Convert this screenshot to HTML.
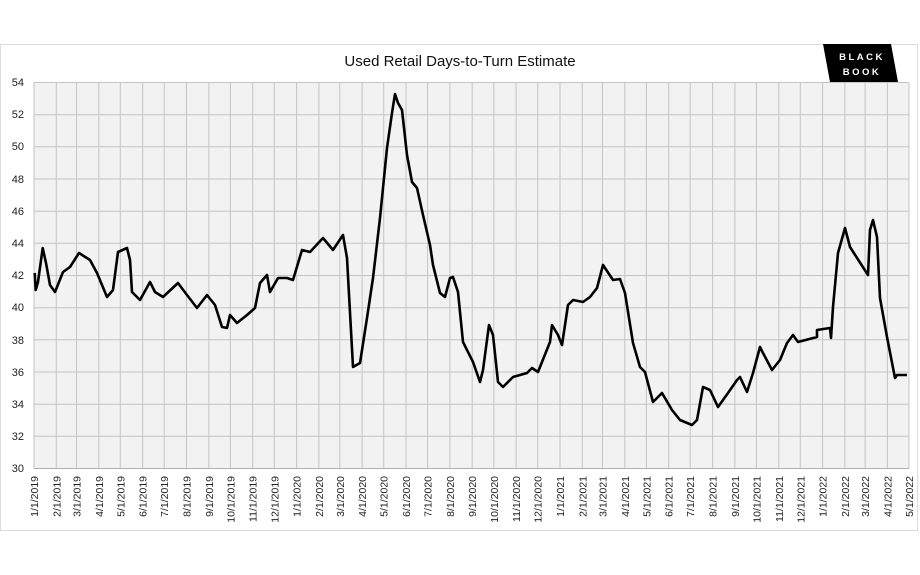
<!DOCTYPE html>
<html><head><meta charset="utf-8"><style>
html,body{margin:0;padding:0;background:#fff;width:920px;height:575px;overflow:hidden}
svg{display:block;font-family:"Liberation Sans",Arial,sans-serif}
</style></head><body>
<svg width="920" height="575" viewBox="0 0 920 575" xmlns="http://www.w3.org/2000/svg">
<rect x="0.5" y="44.5" width="917" height="486" fill="#fff" stroke="#dcdcdc" stroke-width="1"/>
<text x="460" y="66" text-anchor="middle" font-size="15" fill="#111">Used Retail Days-to-Turn Estimate</text>
<polygon points="823,44 891,44 898,82 830,82" fill="#000"/>
<text x="862" y="60" text-anchor="middle" font-size="9.5" fill="#fff" letter-spacing="2.5" font-weight="bold">BLACK</text>
<text x="862" y="75" text-anchor="middle" font-size="9.5" fill="#fff" letter-spacing="2.5" font-weight="bold">BOOK</text>
<rect x="34" y="82.5" width="875" height="386" fill="#f2f2f2"/>
<g stroke="#c4c4c4" stroke-width="1">
<path d="M34 436.3H909M34 404.2H909M34 372H909M34 339.8H909M34 307.7H909M34 275.5H909M34 243.3H909M34 211.2H909M34 179H909M34 146.8H909M34 114.7H909M34 82.5H909"/>
<path d="M34 82.5V468.5M56.3 82.5V468.5M76.5 82.5V468.5M98.8 82.5V468.5M120.3 82.5V468.5M142.7 82.5V468.5M164.2 82.5V468.5M186.5 82.5V468.5M208.9 82.5V468.5M230.4 82.5V468.5M252.7 82.5V468.5M274.3 82.5V468.5M296.6 82.5V468.5M318.9 82.5V468.5M339.8 82.5V468.5M362.1 82.5V468.5M383.7 82.5V468.5M406 82.5V468.5M427.6 82.5V468.5M449.9 82.5V468.5M472.2 82.5V468.5M493.8 82.5V468.5M516.1 82.5V468.5M537.7 82.5V468.5M560 82.5V468.5M582.3 82.5V468.5M602.5 82.5V468.5M624.8 82.5V468.5M646.4 82.5V468.5M668.7 82.5V468.5M690.2 82.5V468.5M712.6 82.5V468.5M734.9 82.5V468.5M756.4 82.5V468.5M778.8 82.5V468.5M800.3 82.5V468.5M822.6 82.5V468.5M844.9 82.5V468.5M865.1 82.5V468.5M887.4 82.5V468.5M909 82.5V468.5"/>
<path d="M34 468.5H909" stroke="#b0b0b0"/>
</g>
<g font-size="11" fill="#222" text-anchor="end">
<text x="24" y="472">30</text><text x="24" y="440">32</text><text x="24" y="408">34</text><text x="24" y="376">36</text><text x="24" y="344">38</text><text x="24" y="311">40</text><text x="24" y="279">42</text><text x="24" y="247">44</text><text x="24" y="215">46</text><text x="24" y="183">48</text><text x="24" y="150">50</text><text x="24" y="118">52</text><text x="24" y="86">54</text>
</g>
<g font-size="10.5" fill="#222" text-anchor="end">
<text transform="translate(38,476) rotate(-90)">1/1/2019</text>
<text transform="translate(60.3,476) rotate(-90)">2/1/2019</text>
<text transform="translate(80.5,476) rotate(-90)">3/1/2019</text>
<text transform="translate(102.8,476) rotate(-90)">4/1/2019</text>
<text transform="translate(124.3,476) rotate(-90)">5/1/2019</text>
<text transform="translate(146.7,476) rotate(-90)">6/1/2019</text>
<text transform="translate(168.2,476) rotate(-90)">7/1/2019</text>
<text transform="translate(190.5,476) rotate(-90)">8/1/2019</text>
<text transform="translate(212.9,476) rotate(-90)">9/1/2019</text>
<text transform="translate(234.4,476) rotate(-90)">10/1/2019</text>
<text transform="translate(256.7,476) rotate(-90)">11/1/2019</text>
<text transform="translate(278.3,476) rotate(-90)">12/1/2019</text>
<text transform="translate(300.6,476) rotate(-90)">1/1/2020</text>
<text transform="translate(322.9,476) rotate(-90)">2/1/2020</text>
<text transform="translate(343.8,476) rotate(-90)">3/1/2020</text>
<text transform="translate(366.1,476) rotate(-90)">4/1/2020</text>
<text transform="translate(387.7,476) rotate(-90)">5/1/2020</text>
<text transform="translate(410,476) rotate(-90)">6/1/2020</text>
<text transform="translate(431.6,476) rotate(-90)">7/1/2020</text>
<text transform="translate(453.9,476) rotate(-90)">8/1/2020</text>
<text transform="translate(476.2,476) rotate(-90)">9/1/2020</text>
<text transform="translate(497.8,476) rotate(-90)">10/1/2020</text>
<text transform="translate(520.1,476) rotate(-90)">11/1/2020</text>
<text transform="translate(541.7,476) rotate(-90)">12/1/2020</text>
<text transform="translate(564,476) rotate(-90)">1/1/2021</text>
<text transform="translate(586.3,476) rotate(-90)">2/1/2021</text>
<text transform="translate(606.5,476) rotate(-90)">3/1/2021</text>
<text transform="translate(628.8,476) rotate(-90)">4/1/2021</text>
<text transform="translate(650.4,476) rotate(-90)">5/1/2021</text>
<text transform="translate(672.7,476) rotate(-90)">6/1/2021</text>
<text transform="translate(694.2,476) rotate(-90)">7/1/2021</text>
<text transform="translate(716.6,476) rotate(-90)">8/1/2021</text>
<text transform="translate(738.9,476) rotate(-90)">9/1/2021</text>
<text transform="translate(760.4,476) rotate(-90)">10/1/2021</text>
<text transform="translate(782.8,476) rotate(-90)">11/1/2021</text>
<text transform="translate(804.3,476) rotate(-90)">12/1/2021</text>
<text transform="translate(826.6,476) rotate(-90)">1/1/2022</text>
<text transform="translate(848.9,476) rotate(-90)">2/1/2022</text>
<text transform="translate(869.1,476) rotate(-90)">3/1/2022</text>
<text transform="translate(891.4,476) rotate(-90)">4/1/2022</text>
<text transform="translate(913,476) rotate(-90)">5/1/2022</text>
</g>
<polyline fill="none" stroke="#000" stroke-width="2.6" stroke-linejoin="round" points="34.7,273 35.7,290 38,282 42.7,248 46,263 50,285 55,292 63,272 70,267 79,253 90,260 97,273 107,297 113,290 118,252 127,248 130,260 132,292 140,300 150,282 155,292 163,297 178,283 187,295 197,308 207,295 215,305 222,327 227,328 230,315 237,323 247,315 255,308 260,283 267,275 270,292 278,278 287,278 293,280 302,250 310,252 323,238 333,250 343,235 347,258 353,367 360,363 367,318 373,278 380,218 387,148 392,113 395,94 398,103 402,110 407,155 412,182 417,188 423,215 430,245 433,265 440,293 445,297 450,278 453,277 458,292 463,342 467,350 473,362 480,382 483,370 489,325 493,335 498,382 503,387 513,377 527,373 532,368 538,372 550,342 552,325 558,335 562,345 568,305 573,300 583,302 590,297 597,288 603,265 613,280 620,279 625,293 633,343 640,367 645,372 653,402 662,393 672,410 680,420 692,425 697,420 703,387 710,390 718,407 728,393 737,380 740,377 747,392 753,373 760,347 763,353 772,370 780,360 787,343 793,335 798,342 817,337 817,330 830,328 831,338 833,307 838,253 845,228 850,247 868,275 870,230 873,220 877,237 880,298 887,337 895,378 897,375 907,375"/>
</svg>
</body></html>
